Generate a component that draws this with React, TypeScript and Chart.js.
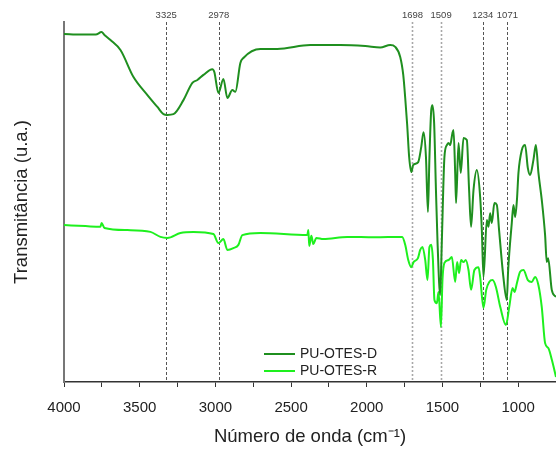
import React, { useEffect, useRef } from "react";
import { Chart, registerables } from "chart.js";

Chart.register(...registerables);

const FONT = "'Liberation Sans', Arial, sans-serif";

// PU-OTES-D: wavenumber (cm-1) and transmittance (a.u.)
const dWavenumber = [
  4000, 3890, 3790, 3752, 3733, 3693, 3627, 3541, 3449, 3383, 3343, 3317, 3277, 3211, 3152, 3119,
  3079, 3020, 3007, 2980, 2947, 2921, 2888, 2868, 2835, 2815, 2703, 2591, 2373, 2175, 2010, 1911,
  1845, 1812, 1779, 1759, 1746, 1733, 1720, 1706, 1693, 1660, 1640, 1625, 1609, 1596, 1586, 1574,
  1566, 1555, 1543, 1533, 1515, 1504, 1487, 1471, 1460, 1449, 1434, 1427, 1416, 1410, 1394, 1379,
  1361, 1339, 1324, 1311, 1295, 1273, 1251, 1240, 1229, 1207, 1196, 1185, 1174, 1157, 1141, 1126,
  1099, 1075, 1066, 1042, 1031, 1020, 1008, 998, 976, 954, 936, 921, 899, 883, 866, 844,
  822, 811, 802, 778, 750,
];
const dTransmittance = [
  96.7, 96.5, 96.5, 97.2, 96.4, 95.0, 92.2, 84.7, 79.7, 76.4, 74.4, 74.2, 74.4, 78.3, 83.1, 83.9,
  85.3, 86.9, 86.1, 80.3, 84.2, 78.9, 81.1, 80.6, 88.6, 90.0, 92.5, 92.5, 93.6, 93.6, 93.3, 92.9,
  93.6, 93.1, 90.3, 85.3, 78.9, 71.4, 62.5, 58.3, 60.3, 61.1, 65.3, 69.4, 62.5, 47.2, 62.5, 75.6,
  76.9, 71.9, 53.3, 39.4, 24.2, 39.4, 62.5, 65.8, 66.4, 65.8, 69.2, 70.0, 58.1, 49.7, 66.4, 58.1,
  67.8, 67.2, 53.3, 43.1, 53.3, 58.9, 51.4, 42.2, 29.2, 45.0, 43.1, 46.9, 44.2, 49.7, 49.2, 42.2,
  29.7, 22.8, 31.1, 44.2, 49.2, 45.8, 50.6, 58.1, 64.4, 65.8, 59.4, 57.5, 61.7, 65.8, 58.1, 50.6,
  40.8, 33.3, 34.4, 25.6, 23.6,
];

// PU-OTES-R: wavenumber (cm-1) and transmittance (a.u.)
const rWavenumber = [
  4000, 3858, 3759, 3752, 3733, 3581, 3429, 3363, 3317, 3231, 3145, 3013, 2980, 2947, 2921, 2881,
  2848, 2822, 2703, 2393, 2386, 2380, 2366, 2353, 2333, 2287, 2129, 1950, 1766, 1746, 1726, 1706,
  1691, 1662, 1647, 1632, 1614, 1599, 1586, 1574, 1563, 1553, 1537, 1526, 1510, 1500, 1487, 1460,
  1438, 1416, 1403, 1390, 1377, 1361, 1346, 1328, 1311, 1289, 1262, 1251, 1229, 1211, 1191, 1169,
  1147, 1118, 1081, 1059, 1037, 1024, 1008, 987, 965, 936, 910, 888, 866, 844, 822, 800,
  777, 750,
];
const rTransmittance = [
  43.6, 43.3, 43.1, 44.2, 42.8, 42.2, 41.7, 40.3, 40.0, 41.4, 41.7, 41.1, 38.6, 39.7, 36.7, 37.2,
  38.1, 40.8, 41.4, 40.8, 42.2, 37.8, 40.6, 38.3, 40.0, 39.7, 40.3, 40.2, 40.3, 38.1, 33.9, 31.9,
  33.3, 34.4, 36.7, 37.5, 33.9, 28.3, 37.5, 38.1, 33.9, 22.8, 21.9, 25.0, 15.3, 28.3, 33.1, 33.9,
  34.7, 27.8, 33.3, 30.3, 33.9, 33.3, 33.9, 31.1, 25.6, 31.1, 31.9, 29.2, 20.6, 25.6, 27.8, 28.3,
  26.4, 20.8, 15.8, 20.8, 26.1, 25.0, 27.5, 30.6, 31.1, 28.3, 27.8, 29.2, 26.9, 20.8, 10.8, 9.4,
  6.1, 1.4,
];

const seriesNames = ["PU-OTES-D", "PU-OTES-R"];
const seriesColors = ["#1f8f1f", "#1ef01e"];

// Marked absorption bands (cm-1)
const bandPositions = [3325, 2978, 1698, 1509, 1234, 1071];
const bandLabels = ["3325", "2978", "1698", "1509", "1234", "1071"];
const faintBands = [1698, 1509];

// Axis ticks: labelled every 500, minor every 250
const xTicks = [4000, 3750, 3500, 3250, 3000, 2750, 2500, 2250, 2000, 1750, 1500, 1250, 1000, 750];
const xTickLabels = ["4000", "3500", "3000", "2500", "2000", "1500", "1000"];

const toPoints = (xs: number[], ys: number[]) => xs.map((x, i) => ({ x, y: ys[i] }));

const bandsPlugin = {
  id: "bands",
  beforeDatasetsDraw(chart: any) {
    const { ctx, chartArea, scales } = chart;
    ctx.save();
    bandPositions.forEach((b) => {
      const x = Math.round(scales.x.getPixelForValue(b)) + 0.5;
      const faint = faintBands.includes(b);
      ctx.strokeStyle = faint ? "#a8a8a8" : "#555";
      ctx.lineWidth = faint ? 1.6 : 1;
      ctx.setLineDash(faint ? [2, 2] : [3, 2]);
      ctx.beginPath();
      ctx.moveTo(x, chartArea.top);
      ctx.lineTo(x, chartArea.bottom);
      ctx.stroke();
    });
    ctx.restore();
  },
  afterDraw(chart: any) {
    const { ctx, chartArea, scales } = chart;
    ctx.save();
    ctx.font = `9.5px ${FONT}`;
    ctx.fillStyle = "#444";
    ctx.textAlign = "center";
    ctx.textBaseline = "middle";
    bandPositions.forEach((b, i) => {
      const x = scales.x.getPixelForValue(b);
      ctx.fillText(bandLabels[i], x, chartArea.top - 7);
    });

    // legend inside the plot, bottom centre
    const lx0 = 264;
    const lx1 = 295;
    const rows = [354, 371];
    ctx.font = `14px ${FONT}`;
    ctx.fillStyle = "#222";
    ctx.textAlign = "left";
    seriesNames.forEach((name, i) => {
      ctx.strokeStyle = seriesColors[i];
      ctx.lineWidth = 2;
      ctx.setLineDash([]);
      ctx.beginPath();
      ctx.moveTo(lx0, rows[i]);
      ctx.lineTo(lx1, rows[i]);
      ctx.stroke();
      ctx.fillText(name, 300, rows[i]);
    });
    ctx.restore();
  },
};

export default function App() {
  const canvasRef = useRef<HTMLCanvasElement | null>(null);

  useEffect(() => {
    if (!canvasRef.current) return;
    const chart = new Chart(canvasRef.current, {
      type: "line",
      data: {
        datasets: [
          {
            label: seriesNames[0],
            data: toPoints(dWavenumber, dTransmittance),
            borderColor: seriesColors[0],
            borderWidth: 2,
            pointRadius: 0,
            cubicInterpolationMode: "monotone",
          },
          {
            label: seriesNames[1],
            data: toPoints(rWavenumber, rTransmittance),
            borderColor: seriesColors[1],
            borderWidth: 2,
            pointRadius: 0,
            cubicInterpolationMode: "monotone",
          },
        ],
      },
      options: {
        responsive: false,
        animation: false,
        devicePixelRatio: 1,
        layout: { padding: { top: 22, left: 0, right: 0, bottom: 0 } },
        plugins: {
          legend: { display: false },
          tooltip: { enabled: false },
        },
        scales: {
          x: {
            type: "linear",
            reverse: true,
            min: 750,
            max: 4000,
            afterBuildTicks: (scale: any) => {
              scale.ticks = xTicks.map((v) => ({ value: v }));
            },
            grid: {
              display: true,
              drawOnChartArea: false,
              drawTicks: true,
              tickLength: 5,
              color: "#333",
            },
            border: { display: true, color: "#333", width: 1.5 },
            ticks: {
              autoSkip: false,
              maxRotation: 0,
              padding: 0,
              color: "#222",
              font: { family: FONT, size: 15, lineHeight: 2.8 },
              callback: (v: any) => {
                const s = String(v);
                return xTickLabels.includes(s) ? s : "";
              },
            },
            title: {
              display: true,
              text: "Número de onda (cm⁻¹)",
              color: "#222",
              font: { family: FONT, size: 18.5, lineHeight: 0.9 },
              padding: { top: 0, bottom: 3.35 },
            },
          },
          y: {
            min: 0,
            max: 100,
            grid: { display: false, drawTicks: false },
            border: { display: true, color: "#777", width: 2 },
            ticks: { display: false },
            title: {
              display: true,
              text: "Transmitância (u.a.)",
              color: "#222",
              font: { family: FONT, size: 18.5 },
              padding: { top: 10.9, bottom: 30.9 },
            },
          },
        },
      },
      plugins: [bandsPlugin],
    });
    return () => chart.destroy();
  }, []);

  return (
    <div style={{ position: "absolute", left: 0, top: 0, width: 556, height: 449, background: "#fff" }}>
      <canvas ref={canvasRef} width={556} height={449} />
    </div>
  );
}
